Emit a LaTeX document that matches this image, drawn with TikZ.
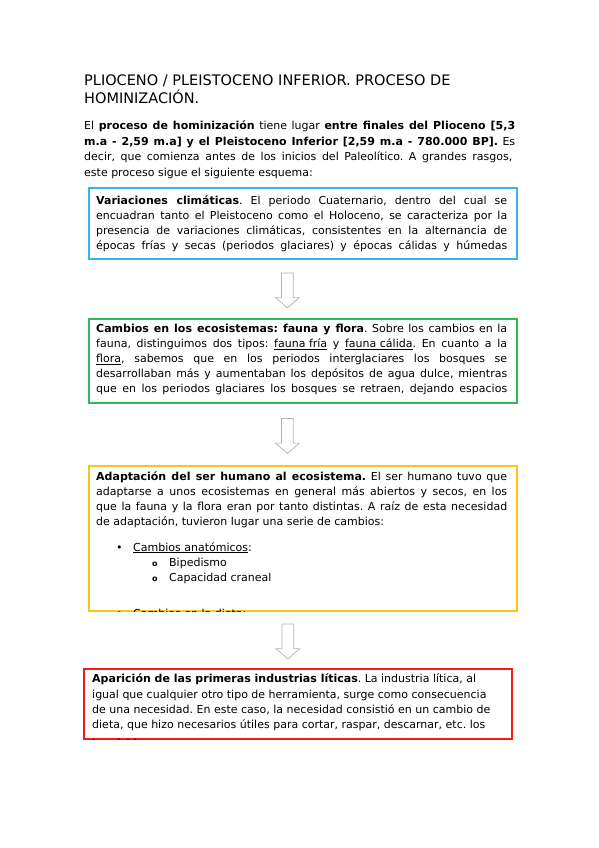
\documentclass[tikz,border=0pt]{standalone}
\usepackage{fontspec}
\setmainfont{DejaVu Sans}
\usetikzlibrary{shapes.arrows,calc}
\definecolor{cAzul}{HTML}{33B7EA}
\definecolor{cVerde}{HTML}{2DB862}
\definecolor{cAmbar}{HTML}{FFC414}
\definecolor{cRojo}{HTML}{F51A1A}
\frenchspacing
\newlength\anchocaja
\setlength\anchocaja{411pt}
\newcommand\lj[1]{\makebox[\anchocaja][s]{#1}}
\tikzset{
  caja/.style={draw=#1, line width=1.8pt, anchor=north west, inner sep=0pt, minimum width=428pt},
  texto/.style={anchor=north west, inner sep=0pt, align=left, font=\fontsize{11}{15.2}\selectfont},
  flecha/.style={shape=single arrow, draw=gray!60, fill=white, line width=.7pt, rotate=-90,
    minimum height=35pt, inner xsep=0pt, inner ysep=5.5pt,
    single arrow head extend=6pt, single arrow tip angle=98}
}
\begin{document}
\begin{tikzpicture}[x=1pt,y=-1pt]
\useasboundingbox (0,0) rectangle (599,848);
% titulo
\node[anchor=north west, inner sep=0pt, align=left, font=\fontsize{14.5}{18}\selectfont] (titulo) at (84,74.5)
  {PLIOCENO / PLEISTOCENO INFERIOR. PROCESO DE\\HOMINIZACIÓN.};
% introduccion
\node[texto, font=\fontsize{11}{15.6}\selectfont] (intro) at (84,120.6) {%
  \makebox[431pt][s]{El \textbf{proceso de hominización} tiene lugar \textbf{entre finales del Plioceno [5,3}}\\
  \makebox[431pt][s]{\textbf{m.a - 2,59 m.a] y el Pleistoceno Inferior [2,59 m.a - 780.000 BP].} Es}\\
  \makebox[428pt][s]{decir, que comienza antes de los inicios del Paleolítico. A grandes rasgos,}\\
  este proceso sigue el siguiente esquema:};
% caja 1
\node[caja=cAzul, minimum height=71pt] (clima) at (88,187) {};
\begin{scope}
\clip (clima.north west) rectangle (clima.south east);
\node[texto] (tclima) at (96,195.4) {%
  \lj{\textbf{Variaciones climáticas}. El periodo Cuaternario, dentro del cual se}\\
  \lj{encuadran tanto el Pleistoceno como el Holoceno, se caracteriza por la}\\
  \lj{presencia de variaciones climáticas, consistentes en la alternancia de}\\
  \lj{épocas frías y secas (periodos glaciares) y épocas cálidas y húmedas}};
\end{scope}
% caja 2
\node[caja=cVerde, minimum height=84pt] (eco) at (88,318) {};
\begin{scope}
\clip (eco.north west) rectangle (eco.south east);
\node[texto] (teco) at (96,323.6) {%
  \lj{\textbf{Cambios en los ecosistemas: fauna y flora}. Sobre los cambios en la}\\
  \lj{fauna, distinguimos dos tipos: \underline{fauna fría} y \underline{fauna cálida}. En cuanto a la}\\
  \lj{\underline{flora}, sabemos que en los periodos interglaciares los bosques se}\\
  \lj{desarrollaban más y aumentaban los depósitos de agua dulce, mientras}\\
  \lj{que en los periodos glaciares los bosques se retraen, dejando espacios}};
\end{scope}
% caja 3
\node[caja=cAmbar, minimum height=145pt] (adapt) at (88,465) {};
\begin{scope}
\clip (adapt.north west) rectangle (adapt.south east);
\node[texto] (tadapt) at (96,471.2) {%
  \lj{\textbf{Adaptación del ser humano al ecosistema.} El ser humano tuvo que}\\
  \lj{adaptarse a unos ecosistemas en general más abiertos y secos, en los}\\
  \lj{que la fauna y la flora eran por tanto distintas. A raíz de esta necesidad}\\
  de adaptación, tuvieron lugar una serie de cambios:\\[10pt]
  \hspace*{20pt}\makebox[17pt][l]{\textbullet}\underline{Cambios anatómicos}:\\
  \hspace*{56pt}\makebox[17pt][l]{\fontsize{8}{8}\selectfont\textbf{o}}Bipedismo\\
  \hspace*{56pt}\makebox[17pt][l]{\fontsize{8}{8}\selectfont\textbf{o}}Capacidad craneal\\[21pt]
  \hspace*{20pt}\makebox[17pt][l]{\textbullet}\underline{Cambios en la dieta}:};
\end{scope}
% caja 4
\node[caja=cRojo, minimum height=70pt] (litica) at (83,668) {};
\begin{scope}
\clip (litica.north west) rectangle (litica.south east);
\node[texto, font=\fontsize{11}{15.4}\selectfont] (tlitica) at (92,673.6) {%
  \textbf{Aparición de las primeras industrias líticas}. La industria lítica, al\\
  igual que cualquier otro tipo de herramienta, surge como consecuencia\\
  de una necesidad. En este caso, la necesidad consistió en un cambio de\\
  dieta, que hizo necesarios útiles para cortar, raspar, descarnar, etc. los\\[3pt]
  homínidos};
\end{scope}
% flechas
\node[flecha] (f1) at ($(clima.south)!.5!(eco.north)+(-15.5,-1)$) {};
\node[flecha] (f2) at ($(eco.south)!.5!(adapt.north)+(-15.5,-1)$) {};
\node[flecha] (f3) at ($(adapt.south)!.5!(litica.north)+(-12.5,-1)$) {};
\end{tikzpicture}
\end{document}
